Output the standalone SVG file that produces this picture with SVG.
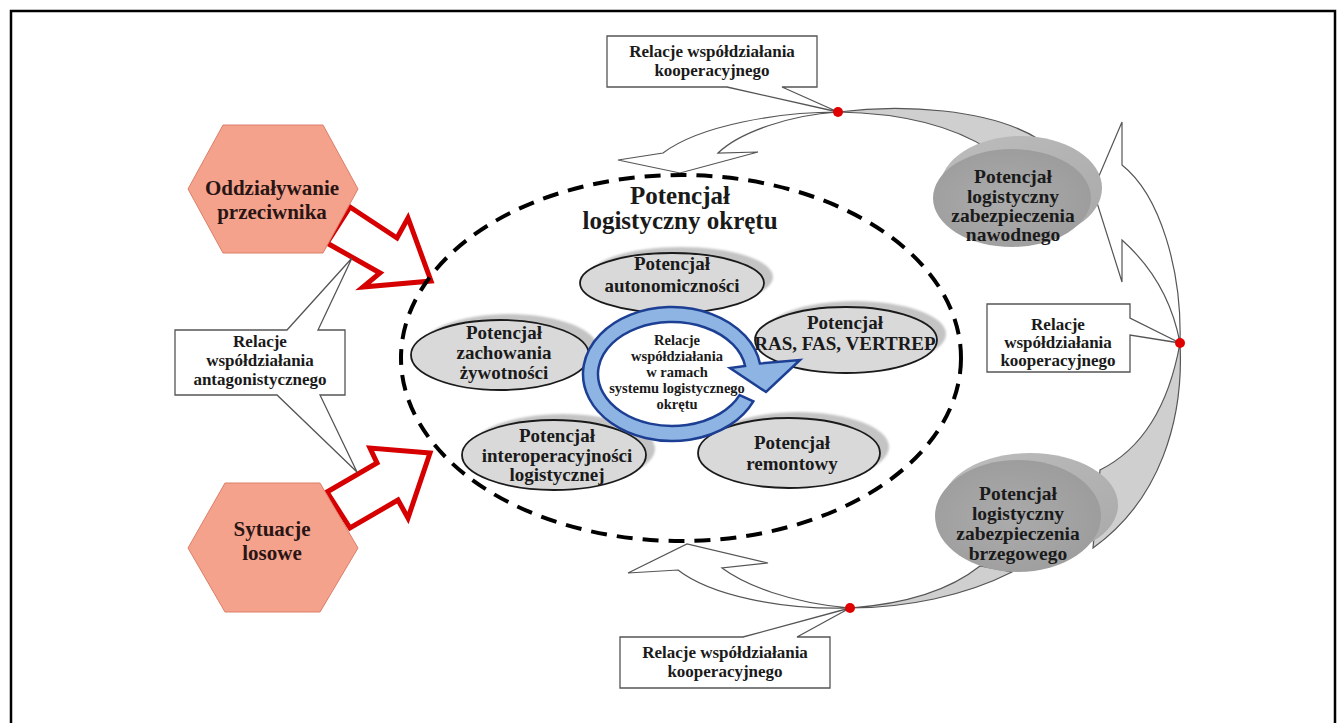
<svg xmlns="http://www.w3.org/2000/svg" width="1343" height="723" viewBox="0 0 1343 723">
<defs>
<style>
text{font-family:"Liberation Serif","DejaVu Serif",serif;font-weight:bold;fill:#1a1a1a;text-anchor:middle}
.hex{fill:#f5a28c;stroke:#dc7e68;stroke-width:1}
.hext{font-size:21px;fill:#2a1515}
.red{fill:#fff;stroke:#d60000;stroke-width:5;stroke-linejoin:miter}
.call{fill:#fff;stroke:#555;stroke-width:1.3}
.ct{font-size:17px}
.wa{fill:#fff;stroke:#555;stroke-width:1.2}
.ga{fill:#cfcfcf;stroke:#555;stroke-width:1.2}
.dot{fill:#e00000}
.sh{fill:#c4c4c4;filter:url(#blur)}
.face{fill:#d9d9d9;stroke:#1a1a1a;stroke-width:1.8}
.et{font-size:19px}
.rt{font-size:19.5px}
.ring{fill:#8eb4e3;stroke:#1c3f94;stroke-width:2.5;stroke-linejoin:miter}
.rgt{font-size:14.5px}
</style>
<filter id="blur" x="-10%" y="-10%" width="120%" height="120%"><feGaussianBlur stdDeviation="1.2"/></filter>
<radialGradient id="disc" cx="0.45" cy="0.55" r="0.6">
<stop offset="0" stop-color="#ababab"/><stop offset="1" stop-color="#9c9c9c"/>
</radialGradient>
<linearGradient id="rim" x1="0" y1="0" x2="1" y2="1">
<stop offset="0" stop-color="#bdbdbd"/><stop offset="1" stop-color="#a9a9a9"/>
</linearGradient>
</defs>
<rect width="1343" height="723" fill="#fff"/>
<path d="M11,723 V11 H1335 V723" fill="none" stroke="#000" stroke-width="2.5"/>

<g id="connectors">
<path class="ga" d="M838,112 C900,104 990,108 1040,140 L990,150 C950,124 895,113 838,112 Z"/>
<path class="ga" d="M1180,343 C1184,420 1160,500 1093,548 L1100,470 C1140,450 1168,410 1180,343 Z"/>
<path class="ga" d="M850,608 C905,604 950,590 980,566 L1012,572 C965,596 905,608 850,608 Z"/>
<path class="wa" d="M838,112 C780,112 700,125 663,153 L618,160 L680,173 L758,152 L718,153 C740,132 790,115 838,112 Z"/>
<path class="wa" d="M1180,343 C1182,270 1160,195 1122,165 L1122,122 L1093,190 L1122,282 L1122,240 C1150,265 1172,300 1180,343 Z"/>
<path class="wa" d="M850,608 C780,610 710,595 678,570 L628,573 L687,544 L768,563 L722,568 C745,585 790,603 850,608 Z"/>
<path class="red" d="M350,207 L397,238 L408,218 L431,281 L363,287 L380,273 L327,243 Z"/>
<path class="red" d="M327,492 L377,463 L370,448 L430,453 L408,518 L398,500 L350,528 Z"/>
<ellipse cx="681" cy="358" rx="280" ry="183" fill="none" stroke="#000" stroke-width="4" stroke-dasharray="16 10"/>
</g>

<g id="hex-przeciwnik">
<polygon class="hex" points="188,189 223,125 323,125 358,189 323,253 223,253"/>
<text class="hext" x="272" y="195">Oddziaływanie</text>
<text class="hext" x="272" y="219">przeciwnika</text>
</g>
<g id="hex-losowe">
<polygon class="hex" points="188,548 225,483 320,483 358,548 320,612 225,612"/>
<text class="hext" x="272" y="536">Sytuacje</text>
<text class="hext" x="272" y="560">losowe</text>
</g>

<g id="callout-antagonistic">
<path class="call" d="M175,330 H287 L352,258 L318,330 H345 V395 H320 L357,472 L277,395 H175 Z"/>
<text class="ct" x="260" y="347">Relacje</text>
<text class="ct" x="260" y="366">współdziałania</text>
<text class="ct" x="260" y="385">antagonistycznego</text>
</g>

<g id="callout-coop-top">
<path class="call" d="M607,36 H817 V87 H782 L838,112 L727,87 H607 Z"/>
<text class="ct" x="712" y="57">Relacje współdziałania</text>
<text class="ct" x="712" y="76">kooperacyjnego</text>
</g>
<g id="callout-coop-right">
<path class="call" d="M987,304 H1130 V318 L1180,343 L1130,335 V372 H987 Z"/>
<text class="ct" x="1058" y="330">Relacje</text>
<text class="ct" x="1058" y="348">współdziałania</text>
<text class="ct" x="1058" y="366">kooperacyjnego</text>
</g>
<g id="callout-coop-bottom">
<path class="call" d="M620,637 H743 L850,608 L797,637 H830 V688 H620 Z"/>
<text class="ct" x="725" y="658">Relacje współdziałania</text>
<text class="ct" x="725" y="677">kooperacyjnego</text>
</g>

<g id="title">
<text x="680" y="204" font-size="25">Potencjał</text>
<text x="680" y="229" font-size="25">logistyczny okrętu</text>
</g>

<g id="node-autonomicznosci">
<ellipse class="sh" cx="681" cy="277" rx="92" ry="30"/>
<ellipse class="face" cx="672" cy="283" rx="92" ry="30"/>
<text class="et" x="672" y="270">Potencjał</text>
<text class="et" x="672" y="292">autonomiczności</text>
</g>
<g id="node-ras">
<ellipse class="sh" cx="855" cy="334" rx="91" ry="33"/>
<ellipse class="face" cx="846" cy="340" rx="91" ry="33"/>
<text class="et" x="845" y="329">Potencjał</text>
<text class="et" x="845" y="350">RAS, FAS, VERTREP</text>
</g>
<g id="node-zachowania">
<ellipse class="sh" cx="509" cy="349" rx="89" ry="35"/>
<ellipse class="face" cx="500" cy="355" rx="89" ry="35"/>
<text class="et" x="504" y="339">Potencjał</text>
<text class="et" x="504" y="359">zachowania</text>
<text class="et" x="504" y="379">żywotności</text>
</g>
<g id="node-interoperacyjnosci">
<ellipse class="sh" cx="563" cy="449" rx="92" ry="35"/>
<ellipse class="face" cx="554" cy="455" rx="92" ry="35"/>
<text class="et" x="557" y="442">Potencjał</text>
<text class="et" x="557" y="462">interoperacyjności</text>
<text class="et" x="557" y="481">logistycznej</text>
</g>
<g id="node-remontowy">
<ellipse class="sh" cx="798" cy="447" rx="91" ry="35"/>
<ellipse class="face" cx="789" cy="453" rx="91" ry="35"/>
<text class="et" x="792" y="449">Potencjał</text>
<text class="et" x="792" y="470">remontowy</text>
</g>

<g id="node-relacje-ring">
<path class="ring" d="M753.3,401.3 A89,67 0 1 1 759.9,363.5 L800,360 L766,392 L730,368 L745.1,365.9 A74,52 0 1 0 739.6,395.2 Z"/>
<text class="rgt" x="677" y="345">Relacje</text>
<text class="rgt" x="677" y="361">współdziałania</text>
<text class="rgt" x="677" y="377">w ramach</text>
<text class="rgt" x="677" y="393">systemu logistycznego</text>
<text class="rgt" x="677" y="409">okrętu</text>
</g>

<g id="node-nawodnego">
<ellipse cx="1021" cy="188" rx="81" ry="52" fill="url(#rim)"/>
<ellipse cx="1012" cy="198" rx="79" ry="49" fill="url(#disc)"/>
<text class="rt" x="1013" y="183">Potencjał</text>
<text class="rt" x="1013" y="203">logistyczny</text>
<text class="rt" x="1013" y="222">zabezpieczenia</text>
<text class="rt" x="1013" y="241">nawodnego</text>
</g>
<g id="node-brzegowego">
<ellipse cx="1030" cy="505" rx="88" ry="52" fill="url(#rim)"/>
<ellipse cx="1018" cy="516" rx="83" ry="56" fill="url(#disc)"/>
<text class="rt" x="1018" y="500">Potencjał</text>
<text class="rt" x="1018" y="520">logistyczny</text>
<text class="rt" x="1018" y="540">zabezpieczenia</text>
<text class="rt" x="1018" y="560">brzegowego</text>
</g>

<g id="dots">
<circle class="dot" cx="838" cy="112" r="5"/>
<circle class="dot" cx="1180" cy="343" r="5"/>
<circle class="dot" cx="850" cy="608" r="5"/>
</g>
</svg>
